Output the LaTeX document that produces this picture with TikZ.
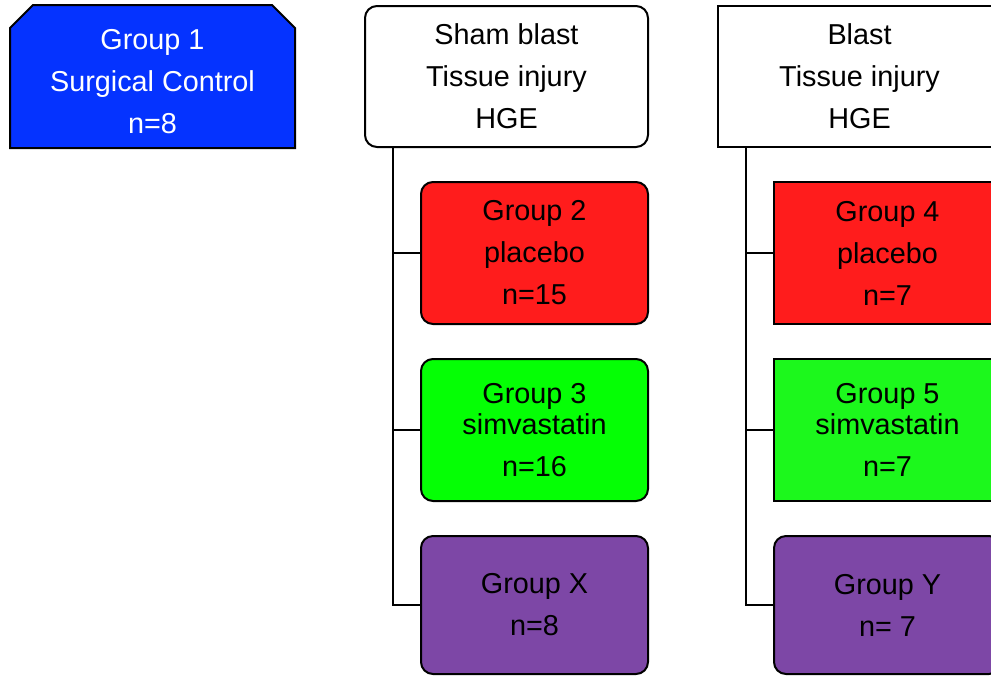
\documentclass[tikz,border=0pt]{standalone}
\usepackage{fontspec}
\setmainfont{Liberation Sans}
\usetikzlibrary{positioning}

\definecolor{grpblue}{RGB}{5,51,255}
\definecolor{grpred}{RGB}{255,28,28}
\definecolor{grpgreen}{RGB}{5,255,5}
\definecolor{grplime}{RGB}{28,248,28}
\definecolor{grppurple}{RGB}{125,71,166}

\tikzset{
  box/.style={draw=black, line width=1.5pt, align=center, inner sep=0pt, outer sep=0pt,
    font=\fontsize{21.6}{31.5}\selectfont},
  hdr/.style={box, fill=white, minimum width=212.25pt, minimum height=105.75pt},
  arm/.style={box, minimum width=170.25pt, minimum height=106.5pt},
  link/.style={line width=1.5pt},
}

\begin{document}
\begin{tikzpicture}[x=0.75pt, y=-0.75pt]
  \useasboundingbox (0,0) rectangle (991,676);
  \clip (0,0) rectangle (991,676);

  %Define nodes
  \draw[fill=grpblue, line width=1.5pt] (10,148) -- (10,28) -- (33,5) -- (272,5)
    -- (295,28) -- (295,148) -- cycle;
  \node[box, draw=none, text=white] (g1) at (152.5,82) {Group 1\\Surgical Control\\n=8};

  \node[hdr, rounded corners=9pt] (sham) at (506.5,76.5) {Sham blast\\Tissue injury\\HGE};
  \node[arm, fill=grpred, rounded corners=9pt, below=26.25pt of sham.south east,
    anchor=north east] (g2) {Group 2\\placebo\\n=15};
  \node[arm, fill=grpgreen, rounded corners=9pt, below=26.25pt of g2] (g3)
    {Group 3\\[-8.25pt]simvastatin\\n=16};
  \node[arm, fill=grppurple, rounded corners=9pt, minimum height=103.5pt,
    below=26.25pt of g3] (gx) {Group X\\n=8};

  \node[hdr] (blast) at (859.5,76.5) {Blast\\Tissue injury\\HGE};
  \node[arm, fill=grpred, below=26.25pt of blast.south east, anchor=north east] (g4)
    {Group 4\\placebo\\n=7};
  \node[arm, fill=grplime, below=26.25pt of g4] (g5) {Group 5\\[-8.25pt]simvastatin\\n=7};
  \node[arm, fill=grppurple, rounded corners=9pt, minimum height=103.5pt,
    below=26.25pt of g5] (gy) {Group Y\\n= 7};

  % Connect the nodes
  \coordinate[right=21pt of sham.south west] (shamtrunk);
  \coordinate[right=21pt of blast.south west] (blasttrunk);
  \draw[link] (shamtrunk) |- (gx.west);
  \draw[link] (g2.west) -- (g2.west -| shamtrunk);
  \draw[link] (g3.west) -- (g3.west -| shamtrunk);
  \draw[link] (blasttrunk) |- (gy.west);
  \draw[link] (g4.west) -- (g4.west -| blasttrunk);
  \draw[link] (g5.west) -- (g5.west -| blasttrunk);

\end{tikzpicture}
\end{document}
